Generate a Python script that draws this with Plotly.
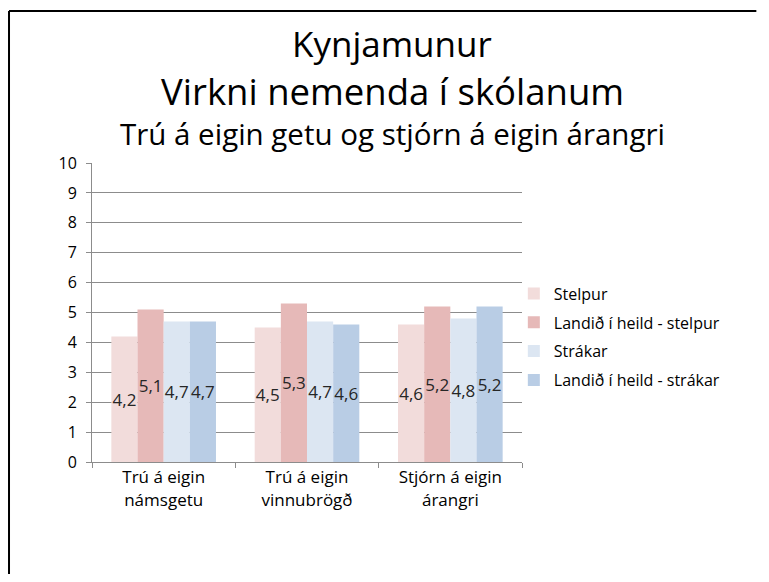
import plotly.graph_objects as go

# data
categories = ["Trú á eigin<br>námsgetu", "Trú á eigin<br>vinnubrögð", "Stjórn á eigin<br>árangri"]
series_names = ["Stelpur", "Landið í heild - stelpur", "Strákar", "Landið í heild - strákar"]
stelpur = [4.2, 4.5, 4.6]
landid_stelpur = [5.1, 5.3, 5.2]
strakar = [4.7, 4.7, 4.8]
landid_strakar = [4.7, 4.6, 5.2]
y_ticks = list(range(0, 11))

colors = ["#f2dcdb", "#e6b9b8", "#dce6f2", "#b9cde5"]
font = "Open Sans, sans-serif"

fig = go.Figure()
for i, (name, vals, c) in enumerate(zip(series_names, [stelpur, landid_stelpur, strakar, landid_strakar], colors)):
    fig.add_trace(go.Bar(
        x=categories, y=vals, name=name, legendgroup=str(i),
        marker=dict(color=c, line=dict(width=0)),
        text=[f"{v:.1f}".replace(".", ",") for v in vals],
        textposition="inside", insidetextanchor="middle", textangle=0,
        textfont=dict(size=17, color="#262626", family=font),
    ))

# the page adds an 8px body margin; keep the figure small enough to avoid scrollbars
fig.update_layout(
    width=753, height=566,
    margin=dict(l=84, r=239, t=155, b=112),
    paper_bgcolor="white", plot_bgcolor="white",
    barmode="group", bargap=0.27, bargroupgap=0,
    font=dict(family=font, color="black"),
    uniformtext=dict(minsize=17, mode="show"),
    showlegend=True,
    legend=dict(x=0.981, y=0.62, xanchor="left", yanchor="top",
                font=dict(size=16), tracegroupgap=5, itemwidth=30,
                bgcolor="rgba(0,0,0,0)"),
)

fig.update_yaxes(range=[0, 10], tickvals=y_ticks, showgrid=True, gridcolor="#8c8c8c",
                 gridwidth=1, showline=True, linecolor="#8c8c8c", linewidth=1,
                 ticks="outside", ticklen=5, tickcolor="#8c8c8c", ticklabelstandoff=6,
                 tickfont=dict(size=16, color="black"), zeroline=False)
fig.update_xaxes(showline=True, linecolor="#8c8c8c", linewidth=1, ticks="outside",
                 tickson="boundaries", ticklen=5, tickcolor="#8c8c8c",
                 tickfont=dict(size=17, color="black"))

# titles
titles = [("Kynjamunur", 35, 1.40), ("Virkni nemenda í skólanum", 36.5, 1.242),
          ("Trú á eigin getu og stjórn á eigin árangri", 29.5, 1.097)]
for txt, size, yy in titles:
    fig.add_annotation(text=txt, xref="paper", yref="paper", x=0.698, y=yy,
                       xanchor="center", yanchor="middle", showarrow=False,
                       font=dict(size=size, color="black", family=font))

# outer frame (only top and left edges are visible)
fig.add_shape(type="line", xref="paper", yref="paper", x0=-0.193, x1=-0.193, y0=-0.4, y1=1.508,
              line=dict(color="black", width=2))
fig.add_shape(type="line", xref="paper", yref="paper", x0=-0.193, x1=1.545, y0=1.508, y1=1.508,
              line=dict(color="black", width=2))

fig.write_html("out.html")
